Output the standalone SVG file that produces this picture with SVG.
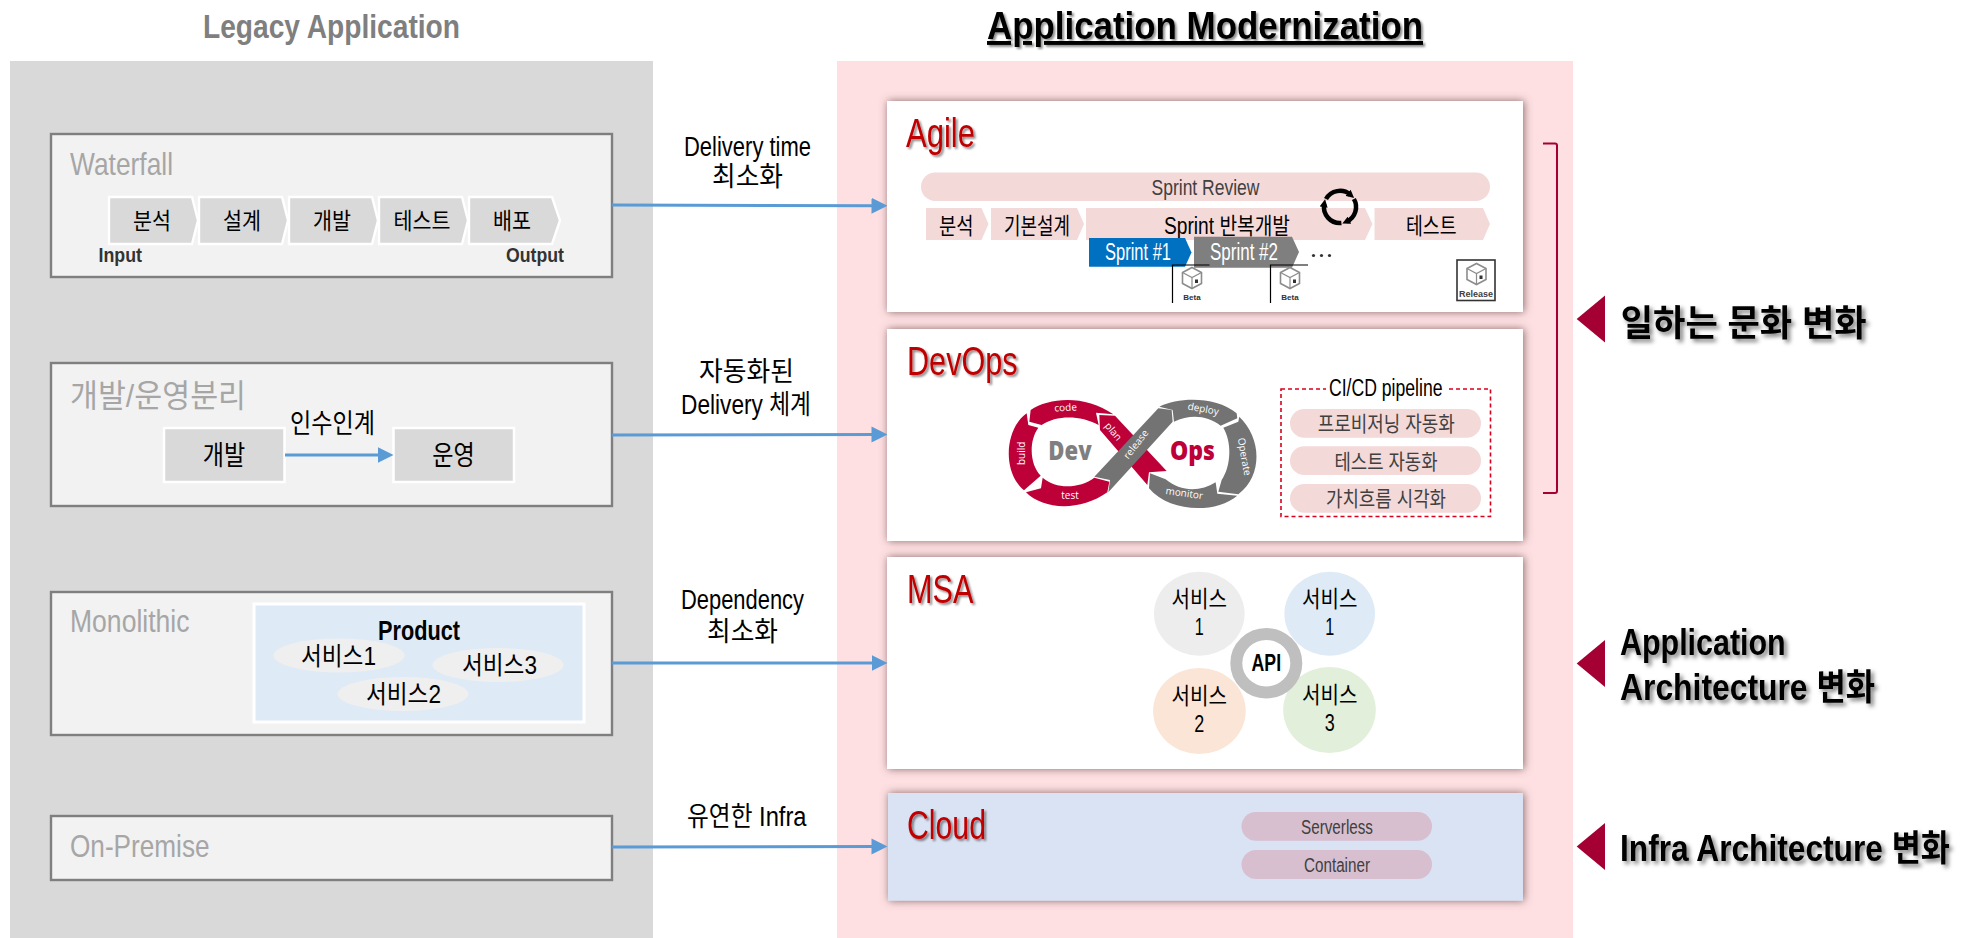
<svg xmlns="http://www.w3.org/2000/svg" width="1973" height="938" viewBox="0 0 1973 938">
<style>
text{font-family:"Liberation Sans","Noto Sans CJK KR",sans-serif;fill:#000}
.t{text-anchor:middle}
.bold{font-weight:700}
.box{fill:#f2f2f2;stroke:#7f7f7f;stroke-width:2.4}
.lab{font-size:32px;fill:#a6a6a6}
.chev{fill:#d9d9d9;stroke:#fff;stroke-width:2.4}
.s21{font-size:23px}
.card{filter:url(#cs)}
.ttl{font-size:40px;fill:#c00000;filter:url(#ts)}
.pk{fill:#f4d9d9}
.gr{fill:#404040}
.link{fill:none;stroke:#5b9bd5;stroke-width:3;marker-end:url(#head)}
.side{font-size:36px;font-weight:700;filter:url(#ts2)}
.tri{fill:#a50034}
.w{fill:#fff;font-family:"Open Sans","Liberation Sans",sans-serif;font-size:30px}
.dv{fill:#be0038}
.dg{fill:#737373}
</style>
<defs>
<filter id="cs" x="-5%" y="-10%" width="110%" height="120%"><feDropShadow dx="1" dy="0" stdDeviation="4.500" flood-color="#6b4a4c" flood-opacity=".8"/></filter>
<filter id="ts" x="-10%" y="-20%" width="125%" height="150%"><feDropShadow dx="2" dy="2" stdDeviation="1.2" flood-color="#000" flood-opacity=".45"/></filter>
<filter id="ts2" x="-5%" y="-20%" width="115%" height="160%"><feDropShadow dx="3" dy="3" stdDeviation="2" flood-color="#000" flood-opacity=".5"/></filter>
<marker id="head" viewBox="0 0 16 16" markerUnits="userSpaceOnUse" markerWidth="16" markerHeight="16" refX="8" refY="8" orient="auto"><path d="M0 0L16 8L0 16Z" fill="#5b9bd5"/></marker>
<marker id="cyc" viewBox="0 0 8 8" markerUnits="userSpaceOnUse" markerWidth="8" markerHeight="8" refX="3" refY="4" orient="auto"><path d="M0 0L8 4L0 8Z" fill="#000"/></marker>
<g id="cube"><path d="M0-10.500L9.500-5.500V5.500L0 10.500L-9.500 5.500V-5.500Z" fill="#fff" stroke="#8c8c8c" stroke-width="1.6"/><path d="M-9.500-5.500L0-.5L9.500-5.500M0-.5V10.500" fill="none" stroke="#8c8c8c" stroke-width="1.200"/><rect x="3" y="1.500" width="3" height="3.500" fill="#333"/></g>
</defs>
<rect width="1973" height="938" fill="#fff"/>

<g id="legacy-panel">
<rect x="10" y="61" width="643" height="877" fill="#d9d9d9"/>
<text x="203" y="38" font-size="34" class="bold" style="fill:#7f7f7f" textLength="257" lengthAdjust="spacingAndGlyphs">Legacy Application</text>
</g>

<g id="waterfall">
<rect class="box" x="51" y="134" width="561" height="143"/>
<text class="lab" x="70" y="175" textLength="103" lengthAdjust="spacingAndGlyphs">Waterfall</text>
<path class="chev" d="M109 197H192L198 220.500L192 244H109Z"/>
<path class="chev" d="M199 197H282L288 220.500L282 244H199Z"/>
<path class="chev" d="M289 197H372L378 220.500L372 244H289Z"/>
<path class="chev" d="M379 197H462L468 220.500L462 244H379Z"/>
<path class="chev" d="M469 197H552L560 220.500L552 244H469Z"/>
<text class="t s21" x="152" y="229" textLength="38" lengthAdjust="spacingAndGlyphs">분석</text>
<text class="t s21" x="242" y="229" textLength="38" lengthAdjust="spacingAndGlyphs">설계</text>
<text class="t s21" x="332" y="229" textLength="38" lengthAdjust="spacingAndGlyphs">개발</text>
<text class="t s21" x="422" y="229" textLength="57" lengthAdjust="spacingAndGlyphs">테스트</text>
<text class="t s21" x="512" y="229" textLength="38" lengthAdjust="spacingAndGlyphs">배포</text>
<text class="bold" x="98.500" y="262" font-size="20" style="fill:#333" textLength="43.500" lengthAdjust="spacingAndGlyphs">Input</text>
<text class="bold" x="506" y="262" font-size="20" style="fill:#333" textLength="58" lengthAdjust="spacingAndGlyphs">Output</text>
</g>

<g id="dev-ops-split">
<rect class="box" x="51" y="363" width="561" height="143"/>
<text class="lab" x="70" y="407" textLength="176" lengthAdjust="spacingAndGlyphs">개발/운영분리</text>
<rect x="164" y="428" width="120.500" height="54" fill="#d9d9d9" stroke="#fff" stroke-width="2.500"/>
<rect x="393.500" y="428" width="120.500" height="54" fill="#d9d9d9" stroke="#fff" stroke-width="2.500"/>
<text class="t" x="224" y="465" font-size="27" textLength="42.500" lengthAdjust="spacingAndGlyphs">개발</text>
<text class="t" x="453.500" y="465" font-size="27" textLength="42.500" lengthAdjust="spacingAndGlyphs">운영</text>
<text x="290" y="433" font-size="27" textLength="85" lengthAdjust="spacingAndGlyphs">인수인계</text>
</g>

<g id="monolithic">
<rect class="box" x="51" y="592" width="561" height="143"/>
<text class="lab" x="70" y="632" textLength="119.500" lengthAdjust="spacingAndGlyphs">Monolithic</text>
<rect x="254" y="604" width="330" height="118" fill="#deeaf6" stroke="#fff" stroke-width="3"/>
<text class="bold" x="378" y="640" font-size="27" textLength="82" lengthAdjust="spacingAndGlyphs">Product</text>
<ellipse cx="339" cy="655.500" rx="65.500" ry="17" fill="#efefef"/>
<ellipse cx="498" cy="665" rx="65.500" ry="17" fill="#efefef"/>
<ellipse cx="403" cy="694" rx="65.500" ry="17" fill="#efefef"/>
<text x="301" y="665" font-size="25" textLength="75" lengthAdjust="spacingAndGlyphs">서비스1</text>
<text x="462" y="674" font-size="25" textLength="75" lengthAdjust="spacingAndGlyphs">서비스3</text>
<text x="366" y="703" font-size="25" textLength="75" lengthAdjust="spacingAndGlyphs">서비스2</text>
</g>

<g id="on-premise">
<rect class="box" x="51" y="816" width="561" height="64"/>
<text class="lab" x="70" y="857" textLength="139.500" lengthAdjust="spacingAndGlyphs">On-Premise</text>
</g>

<g id="benefit-labels">
<text x="684" y="156" font-size="27" textLength="127" lengthAdjust="spacingAndGlyphs">Delivery time</text>
<text x="712" y="186" font-size="27" textLength="71" lengthAdjust="spacingAndGlyphs">최소화</text>
<text x="699" y="381" font-size="27" textLength="95" lengthAdjust="spacingAndGlyphs">자동화된</text>
<text x="681" y="414" font-size="27" textLength="130" lengthAdjust="spacingAndGlyphs">Delivery 체계</text>
<text x="681" y="609" font-size="27" textLength="123" lengthAdjust="spacingAndGlyphs">Dependency</text>
<text x="707" y="641" font-size="27" textLength="71" lengthAdjust="spacingAndGlyphs">최소화</text>
<text x="687" y="826" font-size="27" textLength="119.500" lengthAdjust="spacingAndGlyphs">유연한 Infra</text>
</g>

<g id="modern-panel">
<rect x="837" y="61" width="736" height="877" fill="#fee0e2"/>
<text x="987" y="39" font-size="39" class="bold" text-decoration="underline" style="filter:url(#ts)" textLength="436" lengthAdjust="spacingAndGlyphs">Application Modernization</text>
</g>

<g id="agile">
<rect class="card" x="887" y="101" width="636" height="211" fill="#fff"/>
<text class="ttl" x="906" y="147" textLength="69" lengthAdjust="spacingAndGlyphs">Agile</text>
<rect class="pk" x="921" y="172.500" width="569" height="28.500" rx="14.200"/>
<text class="gr" x="1151.500" y="195" font-size="22" textLength="108" lengthAdjust="spacingAndGlyphs">Sprint Review</text>
<path class="pk" d="M926 208H981.500L988.500 224L981.500 240H926Z"/>
<path class="pk" d="M991 208H1077L1084 224L1077 240H991Z"/>
<path class="pk" d="M1086 208H1365L1372.500 224L1365 240H1086Z"/>
<path class="pk" d="M1374.500 208H1483L1490 224L1483 240H1374.500Z"/>
<text x="939" y="234" class="s21" textLength="34.500" lengthAdjust="spacingAndGlyphs">분석</text>
<text x="1004" y="234" class="s21" textLength="66" lengthAdjust="spacingAndGlyphs">기본설계</text>
<text x="1164" y="234" class="s21" textLength="126" lengthAdjust="spacingAndGlyphs">Sprint 반복개발</text>
<text x="1406" y="234" class="s21" textLength="50.500" lengthAdjust="spacingAndGlyphs">테스트</text>
<path d="M1089 238H1185L1191.500 252.500L1185 266.700H1089Z" fill="#0070c0"/>
<path d="M1194 236.700H1292L1299 252L1292 267.700H1194Z" fill="#7f7f7f"/>
<text x="1105" y="260" font-size="23" style="fill:#fff" textLength="66" lengthAdjust="spacingAndGlyphs">Sprint #1</text>
<text x="1210" y="260" font-size="23" style="fill:#fff" textLength="68" lengthAdjust="spacingAndGlyphs">Sprint #2</text>
<circle cx="1313.500" cy="255.500" r="1.600" fill="#333"/><circle cx="1321.500" cy="255.500" r="1.600" fill="#333"/><circle cx="1329.500" cy="255.500" r="1.600" fill="#333"/>
<path d="M1172.500 303V265H1209.500M1270.500 303V265H1308" fill="none" stroke="#000" stroke-width="1.200"/>
<use href="#cube" x="1192" y="278"/>
<use href="#cube" x="1290" y="278"/>
<text class="t bold" x="1192" y="299.500" font-size="8" style="fill:#333">Beta</text>
<text class="t bold" x="1290" y="299.500" font-size="8" style="fill:#333">Beta</text>
<rect x="1457" y="260" width="38" height="40.500" fill="#fff" stroke="#333" stroke-width="1.600"/>
<use href="#cube" x="1476.500" y="274"/>
<text class="t bold" x="1476" y="296.500" font-size="9" style="fill:#404040">Release</text>
<g fill="none" stroke="#000" stroke-width="4.500">
<path d="M1326 199A16 16 0 0 1 1350.300 194.700" marker-end="url(#cyc)"/>
<path d="M1353.900 199A16 16 0 0 1 1346.800 221.500" marker-end="url(#cyc)"/>
<path d="M1341.400 223A16 16 0 0 1 1324.200 204.200" marker-end="url(#cyc)"/>
</g>
</g>

<g id="devops">
<rect class="card" x="887" y="329" width="636" height="212" fill="#fff"/>
<text class="ttl" x="907" y="375" textLength="110.600" lengthAdjust="spacingAndGlyphs">DevOps</text>
<g transform="translate(1000 385) scale(.3333)">
<path class="dv" d="M92 75C150 35 260 30 340 88L288 83L296 120C240 90 170 90 125 120L88 110Z"/>
<path class="dv" d="M80 85C15 130 5 260 72 316L122 272C90 240 85 170 115 128L85 120Z"/>
<path class="dv" d="M78 322C130 375 240 380 322 322L328 290L283 278C240 310 170 315 128 278L123 310Z"/>
<path class="dv" d="M298 90L345 92L500 258L447 262L442 300L300 135Z"/>
<path class="dg" d="M283 275L475 70L515 75L518 110L325 322L330 285Z"/>
<path class="dg" d="M478 65C540 35 650 35 710 85L712 100L662 122C620 90 570 88 522 110L518 75Z"/>
<path class="dg" d="M718 95C785 160 790 270 715 328L655 320L665 285C695 240 695 170 670 128L715 110Z"/>
<path class="dg" d="M712 332C650 385 510 385 447 310L450 265L497 283C540 320 600 322 647 292L652 326Z"/>
<text x="145" y="224" font-size="78" style="fill:#7f7f7f;font-family:'Open Sans','Liberation Sans',sans-serif;font-weight:800" textLength="130" lengthAdjust="spacingAndGlyphs">Dev</text>
<text x="510" y="224" font-size="78" style="fill:#be0038;font-family:'Open Sans','Liberation Sans',sans-serif;font-weight:800" textLength="135" lengthAdjust="spacingAndGlyphs">Ops</text>
<text class="t w" x="197" y="78" transform="rotate(-3 197 68)">code</text>
<text class="t w" x="65" y="205" transform="rotate(-90 65 205)" dy="10">build</text>
<text class="t w" x="210" y="343">test</text>
<text class="t w" x="340" y="150" transform="rotate(50 340 140)">plan</text>
<text class="t w" x="408" y="188" transform="rotate(-52 408 178)">release</text>
<text class="t w" x="610" y="82" transform="rotate(10 610 72)">deploy</text>
<text class="t w" x="733" y="225" transform="rotate(80 733 215)">Operate</text>
<text class="t w" x="553" y="335" transform="rotate(8 553 325)">monitor</text>
</g>
<rect x="1281" y="389" width="209.500" height="127.500" fill="none" stroke="#d8001c" stroke-width="1.600" stroke-dasharray="4 3"/>
<rect x="1326" y="380" width="120" height="18" fill="#fff"/>
<text x="1329" y="396" font-size="23" textLength="113.500" lengthAdjust="spacingAndGlyphs">CI/CD pipeline</text>
<rect class="pk" x="1290" y="409" width="191" height="28.700" rx="14.300"/>
<rect class="pk" x="1290" y="446.300" width="191" height="28.700" rx="14.300"/>
<rect class="pk" x="1290" y="484" width="191" height="28.700" rx="14.300"/>
<text class="gr" x="1317.700" y="431" font-size="21" textLength="137" lengthAdjust="spacingAndGlyphs">프로비저닝 자동화</text>
<text class="gr" x="1334.500" y="468.500" font-size="21" textLength="103" lengthAdjust="spacingAndGlyphs">테스트 자동화</text>
<text class="gr" x="1326" y="506" font-size="21" textLength="120" lengthAdjust="spacingAndGlyphs">가치흐름 시각화</text>
</g>

<g id="msa">
<rect class="card" x="887" y="557" width="636" height="212" fill="#fff"/>
<text class="ttl" x="907" y="603" textLength="66.400" lengthAdjust="spacingAndGlyphs">MSA</text>
<ellipse cx="1199.300" cy="613.700" rx="45.300" ry="42" fill="#ededed"/>
<ellipse cx="1329.700" cy="613.700" rx="45.300" ry="42" fill="#deeaf6"/>
<ellipse cx="1199.400" cy="711" rx="46.300" ry="43" fill="#fbe5d6"/>
<ellipse cx="1329.500" cy="710" rx="46.300" ry="43" fill="#e2efda"/>
<ellipse cx="1266.300" cy="663.200" rx="30" ry="29.200" fill="#fff" stroke="#bfbfbf" stroke-width="12"/>
<text class="t bold" x="1266.300" y="670.700" font-size="24" textLength="29.500" lengthAdjust="spacingAndGlyphs">API</text>
<text class="t" x="1199.300" y="606.700" font-size="23" textLength="55.500" lengthAdjust="spacingAndGlyphs">서비스</text>
<text class="t" x="1199.300" y="635" font-size="23" textLength="9" lengthAdjust="spacingAndGlyphs">1</text>
<text class="t" x="1329.800" y="606.700" font-size="23" textLength="55.500" lengthAdjust="spacingAndGlyphs">서비스</text>
<text class="t" x="1329.800" y="635" font-size="23" textLength="9" lengthAdjust="spacingAndGlyphs">1</text>
<text class="t" x="1199.300" y="704" font-size="23" textLength="55.500" lengthAdjust="spacingAndGlyphs">서비스</text>
<text class="t" x="1199.300" y="731.700" font-size="23" textLength="10" lengthAdjust="spacingAndGlyphs">2</text>
<text class="t" x="1329.800" y="703" font-size="23" textLength="55.500" lengthAdjust="spacingAndGlyphs">서비스</text>
<text class="t" x="1329.800" y="730.700" font-size="23" textLength="10" lengthAdjust="spacingAndGlyphs">3</text>
</g>

<g id="cloud">
<rect class="card" x="888" y="793" width="635" height="107.700" fill="#d9e3f3"/>
<text class="ttl" x="907" y="839" textLength="79" lengthAdjust="spacingAndGlyphs">Cloud</text>
<rect x="1241.500" y="812" width="190.500" height="28.700" rx="14.300" fill="#d7bfcf"/>
<rect x="1241.500" y="850" width="190.500" height="29" rx="14.500" fill="#d7bfcf"/>
<text class="gr" x="1301" y="834" font-size="20" textLength="72" lengthAdjust="spacingAndGlyphs">Serverless</text>
<text class="gr" x="1304" y="872" font-size="20" textLength="66" lengthAdjust="spacingAndGlyphs">Container</text>
</g>

<g id="culture-change">
<path d="M1543 143.500H1555Q1557 143.500 1557 145.500V491Q1557 493 1555 493H1543" fill="none" stroke="#a50034" stroke-width="2"/>
<path class="tri" d="M1605 295.500V342.500L1576.700 319Z"/>
<text class="side" x="1620.700" y="336" textLength="246" lengthAdjust="spacingAndGlyphs">일하는 문화 변화</text>
</g>
<g id="app-arch-change">
<path class="tri" d="M1605 640V687L1576.700 663.500Z"/>
<text class="side" x="1620" y="655" textLength="165.700" lengthAdjust="spacingAndGlyphs">Application</text>
<text class="side" x="1620" y="699.500" textLength="255" lengthAdjust="spacingAndGlyphs">Architecture 변화</text>
</g>
<g id="infra-arch-change">
<path class="tri" d="M1605 823V870L1576.700 846.500Z"/>
<text class="side" x="1620" y="861" textLength="330" lengthAdjust="spacingAndGlyphs">Infra Architecture 변화</text>
</g>

<g id="connectors">
<path class="link" d="M612 205L879.500 205.800"/>
<path class="link" d="M612 435L879.500 434.500"/>
<path class="link" d="M612 663H879.500"/>
<path class="link" d="M612 847L879.500 846.500"/>
<path class="link" d="M285 455H385.500"/>
</g>
</svg>
